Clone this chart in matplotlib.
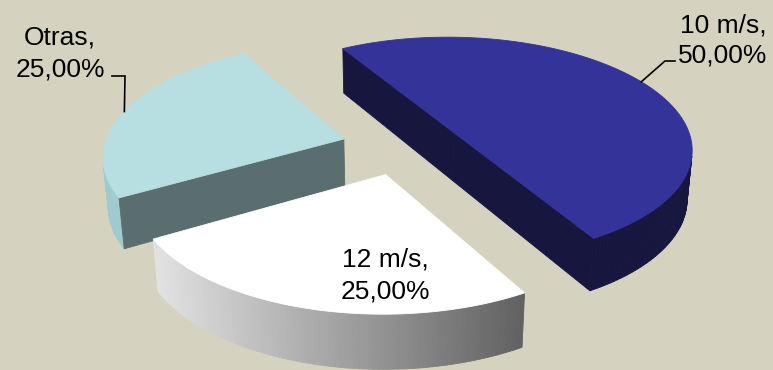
import numpy as np
import matplotlib
matplotlib.use("Agg")
import matplotlib.pyplot as plt
from matplotlib.patches import Polygon

# data, counter-clockwise from the start angle
names = ["10 m/s", "Otras", "12 m/s"]
values = [50, 25, 25]

# colours per slice: top face, curved side, flat (radial) side
tops = ["#333399", "#B7DEE1", "#FFFFFF"]
sides = ["#16163F", "#9FCBD0", None]          # None -> grey gradient
radials = ["#16163F", "#5B6E6F", "#9A9A9A"]
bg = "#D5D3C0"

# 3D view (Excel-style perspective pie)
Cx, Cy, K = 401.9, 170.9, 237.4        # screen centre and radius in px
elev = np.radians(28.76)
dist = 6.441                           # camera distance in radii
h = 0.2345                             # thickness in radii
phi0 = np.radians(-60.02)
explode = 0.2533

# label layout: text centre x, baseline of first line, line pitch, leader path
lab_x = [723, 60, 385]
lab_y = [32, 45, 267]
pitch = [30, 32, 31]
leaders = [[(665, 61), (675, 61)], [(125, 76), (112, 76)], None]


def proj(u, v, w):
    Y = v * np.sin(elev) + w * np.cos(elev)
    Z = v * np.cos(elev) - w * np.sin(elev)
    s = dist / (dist + Z)
    return Cx + K * u * s, Cy - K * Y * s


frac = np.array(values) / sum(values)
edges = phi0 + 2 * np.pi * np.concatenate([[0], np.cumsum(frac)])
mids = (edges[:-1] + edges[1:]) / 2
offs = [(explode * np.cos(m), explode * np.sin(m)) for m in mids]


def arc(i, t, top):
    ox, oy = offs[i]
    w = h / 2 if top else -h / 2
    return proj(ox + np.cos(t), oy + np.sin(t), w * np.ones_like(t))


fig = plt.figure(figsize=(7.73, 3.70), dpi=100, facecolor=bg)
ax = fig.add_axes([0, 0, 1, 1])
ax.set_xlim(0, 773)
ax.set_ylim(370, 0)
ax.axis("off")
light, dark = np.array([0.89, 0.89, 0.89]), np.array([0.38, 0.38, 0.38])

cam = np.array([0, -dist * np.cos(elev), dist * np.sin(elev)])
order = sorted(range(len(values)), key=lambda i: -np.sin(mids[i]))   # far first
for i in order:
    a, b = edges[i], edges[i + 1]
    ox, oy = offs[i]
    ts = np.linspace(a, b, int(np.degrees(b - a)) + 2)
    xt, yt = arc(i, ts, True)
    xb, yb = arc(i, ts, False)
    x0, x1 = min(xt.min(), xb.min()), max(xt.max(), xb.max())
    # curved side, back faces culled
    for k in range(len(ts) - 1):
        tm = (ts[k] + ts[k + 1]) / 2
        nv = np.array([np.cos(tm), np.sin(tm), 0])
        if nv @ (cam - np.array([ox + np.cos(tm), oy + np.sin(tm), 0])) <= 0:
            continue
        quad = [(xt[k], yt[k]), (xt[k + 1], yt[k + 1]), (xb[k + 1], yb[k + 1]), (xb[k], yb[k])]
        if sides[i] is None:
            f = ((xt[k] + xt[k + 1]) / 2 - x0) / (x1 - x0)
            col = tuple(light + (dark - light) * f)
        else:
            col = sides[i]
        ax.add_patch(Polygon(quad, closed=True, fc=col, ec=col, lw=0.6))
    # flat sides
    for t, nv in [(a, np.array([np.sin(a), -np.cos(a), 0])), (b, np.array([-np.sin(b), np.cos(b), 0]))]:
        if nv @ (cam - np.array([ox, oy, 0])) <= 0:
            continue
        quad = [proj(ox, oy, h / 2), proj(ox + np.cos(t), oy + np.sin(t), h / 2),
                proj(ox + np.cos(t), oy + np.sin(t), -h / 2), proj(ox, oy, -h / 2)]
        ax.add_patch(Polygon(quad, closed=True, fc=radials[i], ec=radials[i], lw=0.6))
    # top
    top = [proj(ox, oy, h / 2)] + list(zip(xt, yt))
    ax.add_patch(Polygon(top, closed=True, fc=tops[i], ec=tops[i], lw=0.6))

font = dict(family=["Liberation Sans", "DejaVu Sans"], fontsize=19, color="black",
            ha="center", va="baseline")
for i, name in enumerate(names):
    pct = f"{100 * frac[i]:.2f}%".replace(".", ",")
    ax.text(lab_x[i], lab_y[i], name + ",", **font)
    ax.text(lab_x[i], lab_y[i] + pitch[i], pct, **font)
    if leaders[i]:
        sx, sy = arc(i, np.array([mids[i]]), True)
        pts = [(sx[0], sy[0])] + leaders[i]
        ax.plot(*zip(*pts), color="black", lw=1.2, solid_joinstyle="miter")

fig.savefig("out.png", dpi=100, facecolor=bg)
